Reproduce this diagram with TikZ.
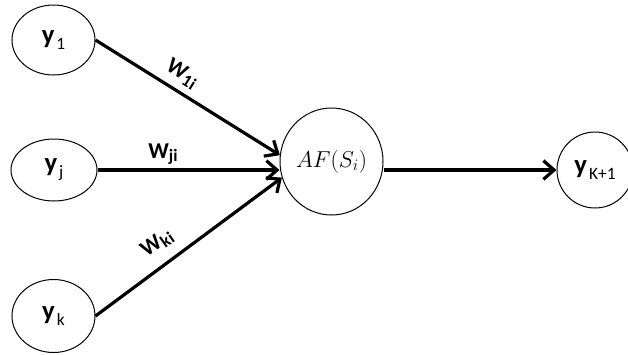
\documentclass[tikz,border=0pt]{standalone}
\usepackage{amsmath,amsthm,amssymb}
\usepackage{fontspec}
\setmainfont{Carlito}
\usetikzlibrary{arrows.meta,shapes.geometric}

\newcommand{\yname}[1]{{\fontsize{20}{22}\selectfont\bfseries y}\kern1.5pt\raisebox{-4.5pt}{\fontsize{13}{15}\selectfont #1}}
\newcommand{\wname}[1]{W\raisebox{-2.5pt}{\fontsize{13}{15}\selectfont\bfseries #1}}

\begin{document}
\begin{tikzpicture}[x=0.75pt,y=0.75pt,yscale=-1,xscale=1,
    unit/.style={draw, ellipse, line width=0.75pt, inner sep=0pt},
    link/.style={line width=2.4pt, -{Straight Barb[length=8pt,width=14pt]}},
    wlabel/.style={font=\fontsize{17}{19}\selectfont\bfseries, inner sep=0pt}]
%set diagram left start at 0, and has height of 354
\useasboundingbox (0,0) rectangle (628,354);

%Shape: Ellipse
\node[unit, minimum width=62.25pt, minimum height=52.5pt] (y1) at (53.5,40) {\yname{1}};
%Shape: Ellipse
\node[unit, minimum width=64.5pt, minimum height=46.5pt] (yj) at (54,170) {\yname{j}};
%Shape: Ellipse
\node[unit, minimum width=62.25pt, minimum height=54.75pt] (yk) at (53.5,316) {\yname{k}};
%Shape: Circle
\node[unit, minimum width=77.25pt, minimum height=80.25pt, font=\fontsize{17.5}{20}\selectfont] (AF) at (331.5,161.5) {$AF(S_i)$};
%Shape: Circle
\node[unit, minimum width=57pt, minimum height=57pt] (yK) at (595,170) {\yname{K+1}};

%Straight Lines
\draw[link] (y1.east) -- (AF.173);
%Straight Lines
\draw[link] (yj.east) -- (yj.east -| AF.west);
%Straight Lines
\draw[link] (yk.east) -- (AF.198);
%Straight Lines
\draw[link] (AF.east |- yK.west) -- (yK.west);

% Text Node
\node[wlabel, rotate=-32] (w1i) at (182,74) {\wname{1i}};
% Text Node
\node[wlabel] (wji) at (163,154) {\wname{ji}};
% Text Node
\node[wlabel, rotate=35] (wki) at (157,243) {\wname{ki}};

\end{tikzpicture}
\end{document}
